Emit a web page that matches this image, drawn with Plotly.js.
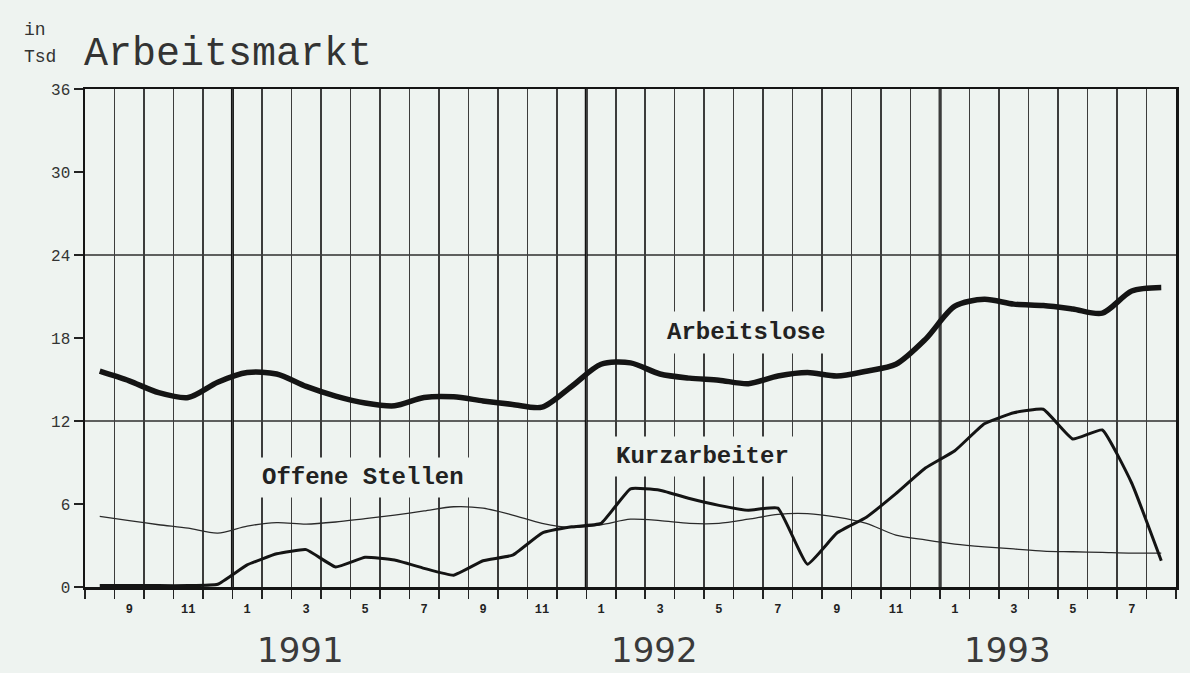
<!DOCTYPE html>
<html>
<head>
<meta charset="utf-8">
<script src="https://cdn.plot.ly/plotly-3.0.1.min.js"></script>
<style>
  html, body { margin: 0; padding: 0; background: #eef3f0; }
  #chart { width: 1190px; height: 673px; }
</style>
</head>
<body>
<div id="chart"></div>
<script>
// Months from Aug 1990 to Aug 1993
const monthNum = [8, 9, 10, 11, 12,
  1, 2, 3, 4, 5, 6, 7, 8, 9, 10, 11, 12,
  1, 2, 3, 4, 5, 6, 7, 8, 9, 10, 11, 12,
  1, 2, 3, 4, 5, 6, 7, 8];
const yearOfMonth = [1990, 1990, 1990, 1990, 1990,
  1991, 1991, 1991, 1991, 1991, 1991, 1991, 1991, 1991, 1991, 1991, 1991,
  1992, 1992, 1992, 1992, 1992, 1992, 1992, 1992, 1992, 1992, 1992, 1992,
  1993, 1993, 1993, 1993, 1993, 1993, 1993, 1993];

// values in thousands
const arbeitslose = [15.6, 14.9, 14.05, 13.7, 14.8,
  15.5, 15.4, 14.5, 13.8, 13.3, 13.1, 13.7, 13.75, 13.45, 13.2, 13.0, 14.5,
  16.1, 16.2, 15.4, 15.1, 14.95, 14.7, 15.25, 15.5, 15.25, 15.6, 16.1, 17.9,
  20.3, 20.8, 20.45, 20.35, 20.1, 19.8, 21.4, 21.65];
const kurzarbeiter = [0.1, 0.1, 0.1, 0.1, 0.2,
  1.6, 2.4, 2.7, 1.45, 2.15, 1.95, 1.35, 0.85, 1.9, 2.3, 3.9, 4.35,
  4.6, 7.1, 7.0, 6.4, 5.9, 5.55, 5.7, 1.65, 3.9, 5.05, 6.75, 8.6,
  9.85, 11.8, 12.6, 12.85, 10.7, 11.35, 7.5, 1.9];
const offeneStellen = [5.1, 4.8, 4.5, 4.25, 3.9,
  4.4, 4.65, 4.55, 4.7, 4.95, 5.2, 5.5, 5.8, 5.7, 5.2, 4.6, 4.3,
  4.5, 4.9, 4.8, 4.6, 4.6, 4.9, 5.25, 5.3, 5.05, 4.6, 3.75, 3.4,
  3.1, 2.9, 2.75, 2.6, 2.55, 2.5, 2.45, 2.45];

const seriesNames = ['Arbeitslose', 'Kurzarbeiter', 'Offene Stellen'];
const yearLabels = ['1991', '1992', '1993'];
const yTicks = [0, 6, 12, 18, 24, 30, 36];
const gridLevels = [12, 24];

const idx = monthNum.map((_, i) => i);
const oddIdx = idx.filter(i => monthNum[i] % 2 === 1);
const yearStartIdx = idx.filter(i => monthNum[i] === 1);

const BG = '#eef3f0';
const INK = '#141414';
const MONO = 'Liberation Mono, DejaVu Sans Mono, monospace';

const traces = [
  { x: idx, y: offeneStellen, xaxis: 'x', yaxis: 'y', mode: 'lines',
    line: { color: '#2a2a2a', width: 1.3, shape: 'spline', smoothing: 0.8 },
    hoverinfo: 'skip', name: seriesNames[2] },
  { x: idx, y: kurzarbeiter, xaxis: 'x', yaxis: 'y', mode: 'lines',
    line: { color: INK, width: 3, shape: 'spline', smoothing: 0.35 },
    hoverinfo: 'skip', name: seriesNames[1] },
  { x: idx, y: arbeitslose, xaxis: 'x2', yaxis: 'y', mode: 'lines',
    line: { color: INK, width: 5.5, shape: 'spline', smoothing: 0.8 },
    hoverinfo: 'skip', name: seriesNames[0] }
];

const shapes = [];
gridLevels.forEach(v => shapes.push({
  type: 'line', xref: 'paper', x0: 0, x1: 1, yref: 'y', y0: v, y1: v,
  line: { color: '#2e2e2e', width: 1.7 }, layer: 'below'
}));
yearStartIdx.forEach(i => shapes.push({
  type: 'line', xref: 'x', x0: i - 0.5, x1: i - 0.5, yref: 'paper', y0: 0, y1: 1,
  line: { color: '#111', width: 3 }, layer: 'below'
}));

const annotations = [
  { xref: 'paper', yref: 'paper', x: -0.003, y: 1.07, xanchor: 'left', yanchor: 'middle',
    text: 'Arbeitsmarkt', showarrow: false,
    font: { family: MONO, size: 40, color: '#333' } },
  { xref: 'paper', yref: 'paper', x: -0.058, y: 1.118, xanchor: 'left', yanchor: 'middle',
    text: 'in', showarrow: false, font: { family: MONO, size: 18, color: '#333' } },
  { xref: 'paper', yref: 'paper', x: -0.058, y: 1.064, xanchor: 'left', yanchor: 'middle',
    text: 'Tsd', showarrow: false, font: { family: MONO, size: 18, color: '#333' } },
  { xref: 'x', yref: 'y', x: 21.9, y: 18.4, text: '<b>' + seriesNames[0] + '</b>', showarrow: false,
    bgcolor: BG, borderpad: 7, font: { family: MONO, size: 24, color: '#222' } },
  { xref: 'x', yref: 'y', x: 20.45, y: 9.4, text: '<b>' + seriesNames[1] + '</b>', showarrow: false,
    bgcolor: BG, borderpad: 6, font: { family: MONO, size: 24, color: '#222' } },
  { xref: 'x', yref: 'y', x: 8.94, y: 7.9, text: '<b>' + seriesNames[2] + '</b>', showarrow: false,
    bgcolor: BG, borderpad: 6, font: { family: MONO, size: 24, color: '#222' } }
];
yearLabels.forEach((t, k) => annotations.push({
  xref: 'x', yref: 'paper', x: yearStartIdx[k] + 1.8, y: -0.17,
  xanchor: 'center', yanchor: 'bottom', text: t, showarrow: false,
  font: { family: 'DejaVu Sans, sans-serif', size: 34, color: '#3a3a3a' }
}));

const layout = {
  width: 1190, height: 673,
  margin: { l: 85, r: 14, t: 89, b: 86 },
  paper_bgcolor: BG, plot_bgcolor: BG,
  showlegend: false,
  xaxis: {
    range: [-0.5, idx.length - 0.5], tickmode: 'linear', tick0: -0.5, dtick: 1,
    showgrid: true, gridcolor: '#3c3c3c', gridwidth: 1.5,
    ticks: 'outside', ticklen: 9, tickwidth: 1.5, tickcolor: '#222',
    showticklabels: false, showline: true, linecolor: INK, linewidth: 2.5,
    mirror: true, zeroline: false, fixedrange: true
  },
  xaxis2: {
    overlaying: 'x', matches: 'x', anchor: 'y', side: 'bottom',
    tickmode: 'array', tickvals: oddIdx, ticktext: oddIdx.map(i => String(monthNum[i])),
    showgrid: false, zeroline: false, showline: false,
    ticks: 'outside', ticklen: 11, tickcolor: 'rgba(0,0,0,0)',
    tickfont: { family: MONO, size: 12, color: '#222', weight: 'bold' }
  },
  yaxis: {
    range: [0, 36], tickmode: 'array', tickvals: yTicks,
    showgrid: false, zeroline: false,
    ticks: 'outside', ticklen: 9, tickwidth: 2, tickcolor: '#222',
    showline: true, linecolor: INK, linewidth: 2.5, mirror: true,
    tickfont: { family: MONO, size: 16, color: '#333' }, fixedrange: true
  },
  shapes: shapes,
  annotations: annotations
};

Plotly.newPlot('chart', traces, layout, { staticPlot: true, displayModeBar: false });
</script>
</body>
</html>
